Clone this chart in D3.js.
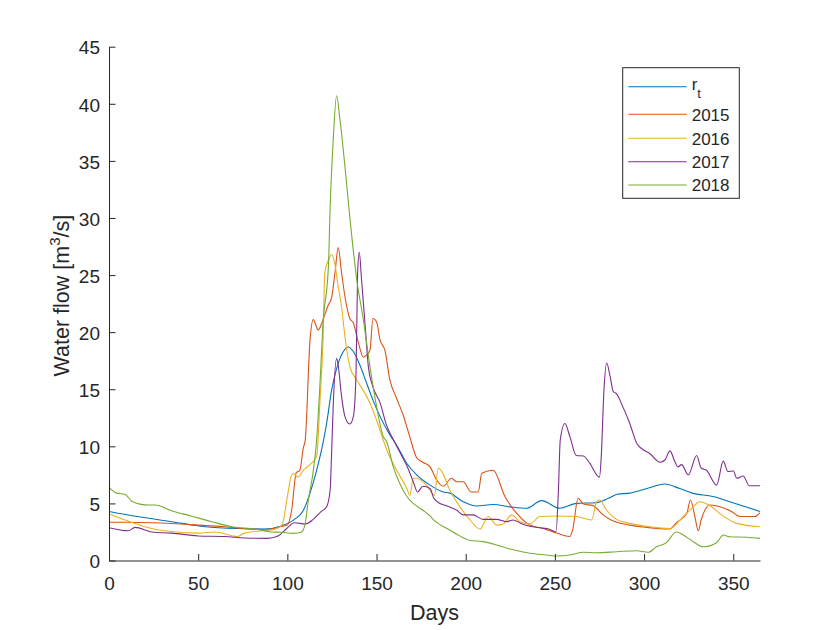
<!DOCTYPE html>
<html>
<head>
<meta charset="utf-8">
<script src="https://cdn.jsdelivr.net/npm/d3@7/dist/d3.min.js"></script>
<style>
  html, body { margin: 0; padding: 0; background: #fff; }
  svg { display: block; font-family: "Liberation Sans", Arial, sans-serif; }
</style>
</head>
<body>
<svg id="chart" width="840" height="630"></svg>
<script>
// ---- Data: [day, water flow m^3/s] ----
const seriesNames = ["r_t", "2015", "2016", "2017", "2018"];
const seriesColors = ["#0072BD", "#D95319", "#EDB120", "#7E2F8E", "#77AC30"];

const rt = [[0,4.3],[16,3.85],[35,3.4],[54,2.96],[72,2.8],[87,2.76],[97,3.05],[104,3.6],[109,4.4],[112.7,5.9],[116.4,7.9],[120,10.3],[122,12],[124.8,14.9],[127.6,16.8],[131.4,18.3],[134.2,18.7],[137,18.3],[140.7,17.1],[144.5,15.5],[148,14.05],[152,12.6],[157.5,11.0],[161.3,10.1],[167,8.5],[172.5,7.5],[180,6.6],[187.4,6.0],[191,5.9],[198.6,5.15],[206,4.77],[215.4,4.9],[224.8,4.7],[234,4.57],[242.6,5.24],[252.8,4.57],[262,5.0],[273.4,5.06],[280,5.45],[285,5.8],[292,5.9],[301.6,6.3],[311.7,6.7],[320,6.3],[327,5.9],[338.6,5.6],[348,5.15],[365,4.3]];

const y2015 = [[0,3.35],[10,3.35],[25,3.3],[50,3.1],[65,2.95],[78,2.76],[88,2.7],[97,3.0],[100,3.1],[102.4,4.4],[105,7.7],[107,7.9],[109,9.9],[110,10.5],[112.7,19.3],[114.5,21.1],[117.3,20.2],[120,21.1],[123,22.4],[124.8,23.0],[126.7,25.2],[128.5,27.4],[130.4,25.2],[132.3,23.1],[135,21.2],[137,20.8],[139.8,19.1],[142.6,17.8],[144.5,18.0],[146.3,18.4],[148,21.2],[150,20.9],[152,19.3],[154.7,18.4],[157.5,15.8],[161,14.3],[165,12.7],[168.7,10.8],[172.5,9.0],[176,8.6],[180,8.2],[183.7,7.05],[187.4,6.5],[192,7.2],[195,6.9],[198.6,6.9],[203,6.0],[207,6.0],[209,7.65],[215.4,7.9],[222,5.6],[228.5,4.15],[236,3.1],[243.5,2.8],[251,2.4],[258.4,2.1],[260,2.7],[263,5.45],[266,4.95],[271.5,4.8],[277,4.0],[281,3.6],[292,3.1],[301.4,2.9],[314.5,2.76],[318,3.3],[324,4.15],[326,5.3],[328.5,3.85],[330.4,2.6],[332,3.55],[337,4.86],[342.6,4.7],[349,4.3],[353.7,3.85],[362,3.85],[365,4.2]];

const y2016 = [[0,4.1],[9,3.55],[20,2.96],[31,2.6],[50,2.4],[59.5,2.5],[72,2.1],[76,2.4],[86,2.6],[93,2.75],[97,3.1],[100,5.6],[102,7.3],[103.3,7.6],[106,7.3],[109,7.9],[112.7,8.4],[116.4,9.1],[118.3,14],[120,19.3],[121,25.2],[123,26.3],[124.8,26.8],[126.7,25.9],[128.5,24.0],[130.4,22.2],[132.3,19.6],[135,17.0],[138.9,15.8],[142.6,14.9],[146.3,13.8],[150,12.3],[153.8,10.55],[155.7,9.7],[161.3,7.9],[167,6.3],[168.7,5.7],[170.6,7.2],[172.5,7.2],[178,6.6],[182.5,5.7],[184.6,8.1],[186.5,7.8],[191,6.2],[196.8,4.7],[202.4,3.55],[208,2.76],[212.6,3.85],[217.3,3.1],[221,3.2],[225.8,4.0],[230.4,3.4],[236,3.2],[241.6,3.85],[251,3.9],[262,3.85],[270.6,3.55],[273.4,5.15],[275,5.3],[279,4.4],[284.6,3.6],[292,3.25],[303,2.96],[314.5,2.8],[322,3.85],[327.6,4.7],[331,5.15],[337,4.8],[342.6,4.1],[352,3.25],[365,2.96]];

const y2017 = [[0,2.87],[10.8,2.6],[14.6,2.9],[24,2.5],[35,2.4],[50,2.15],[65,2.1],[76,1.97],[89,1.94],[95,2.17],[99.6,2.8],[104,3.3],[110,3.2],[114.5,3.6],[119,4.3],[122,4.7],[124,6.2],[124.8,9.4],[125.7,13.5],[127.6,17.7],[128.5,17.1],[130.4,14.35],[132.3,12.6],[135,11.95],[137,12.6],[138.5,16.4],[139.4,25.2],[140.3,27.0],[141.6,24.6],[143.5,20.8],[145.4,17.0],[148,15.2],[152,13.8],[155.7,11.8],[159.4,10.6],[164,9.2],[167,8.3],[170.6,6.9],[173,6.0],[176,6.5],[180,6.3],[182,5.5],[185.6,5.0],[189.3,4.8],[195,4.4],[198.6,4.0],[204,4.0],[209.8,3.6],[217.3,3.6],[223,3.4],[226.6,3.55],[231,3.25],[236,3.0],[241.6,2.87],[247,2.73],[250.6,2.5],[252,6.2],[253,10.55],[255.6,12.0],[258.4,10.85],[262,9.2],[266,9.15],[269.6,8.5],[275,7.3],[276,9.1],[277.5,14.9],[279,17.3],[281,16.1],[282.7,14.8],[284.6,14.6],[288,13.5],[292,12.0],[295.8,10.3],[299.5,9.7],[303,9.4],[309,8.6],[311.7,8.8],[314.5,9.6],[317.3,8.65],[319,8.2],[321,8.4],[324.8,7.5],[329.5,9.2],[332,8.1],[335,7.9],[340.7,6.6],[344.4,8.7],[347,7.8],[350,7.84],[352,7.2],[355.6,7.4],[359,6.55],[365,6.55]];

const y2018 = [[0,6.4],[4.3,5.9],[9,5.8],[12.7,5.2],[22,4.86],[25.8,4.86],[35,4.36],[46,3.9],[57.6,3.4],[68.8,2.96],[81.8,2.76],[91,2.5],[96.8,2.47],[103.3,2.38],[108,2.5],[110,3.25],[111.8,5.3],[114.5,7.8],[116.4,10.5],[118.3,15.5],[120,20.8],[123,25.7],[124,31.0],[125.7,36.8],[127.6,40.7],[129.5,38.6],[132.3,34.5],[135,30.1],[138.9,24.6],[142.6,21.1],[146.3,17.0],[150,13.5],[153.8,10.85],[155.7,10.4],[159.4,8.2],[163,6.76],[167,5.6],[170.6,5.0],[176,4.4],[180,3.9],[182,3.55],[189.3,2.82],[195,2.3],[202,1.78],[209.8,1.65],[217.3,1.36],[225,1.0],[236,0.63],[245.4,0.48],[251,0.39],[258.4,0.48],[266,0.72],[273.4,0.68],[284.6,0.77],[295.8,0.86],[302.3,0.72],[307,1.2],[312.6,1.56],[318,2.5],[322,2.23],[327.6,1.65],[333,1.2],[340.7,1.56],[344.4,2.23],[348,2.08],[357.5,2.03],[365,1.94]];

const allSeries = [rt, y2015, y2016, y2017, y2018];

const xTicks = [0, 50, 100, 150, 200, 250, 300, 350];
const yTicks = [0, 5, 10, 15, 20, 25, 30, 35, 40, 45];

// ---- Layout ----
const svg = d3.select("#chart");
const plotLeft = 109, plotRight = 760, plotTop = 46.7, plotBottom = 560.5;
const axisColor = "#262626";

const x = d3.scaleLinear().domain([0, 365]).range([plotLeft, plotRight]);
const y = d3.scaleLinear().domain([0, 45]).range([plotBottom, plotTop]);

svg.append("rect").attr("width", 840).attr("height", 630).attr("fill", "#fff");

// lines
const line = d3.line()
  .x(d => x(d[0]))
  .y(d => y(d[1]))
  .curve(d3.curveMonotoneX);

const plot = svg.append("g");
allSeries.forEach((s, i) => {
  plot.append("path")
    .datum(s)
    .attr("fill", "none")
    .attr("stroke", seriesColors[i])
    .attr("stroke-width", 1.1)
    .attr("stroke-linejoin", "round")
    .attr("d", line);
});

// axes (MATLAB style: ticks inward, no box)
const xAxis = d3.axisBottom(x).tickValues(xTicks).tickSizeInner(-6.5).tickSizeOuter(0).tickPadding(0);
const yAxis = d3.axisLeft(y).tickValues(yTicks).tickSizeInner(-6.5).tickSizeOuter(0).tickPadding(0);

const gx = svg.append("g").attr("transform", `translate(0,${plotBottom})`).call(xAxis);
const gy = svg.append("g").attr("transform", `translate(${plotLeft},0)`).call(yAxis);

[gx, gy].forEach(g => {
  g.select(".domain").attr("stroke", axisColor).attr("stroke-width", 1);
  g.selectAll(".tick line").attr("stroke", axisColor).attr("stroke-width", 1);
  g.selectAll(".tick text")
    .attr("fill", axisColor)
    .attr("font-size", 19)
    .attr("font-family", "'Liberation Sans', Arial, sans-serif");
});
gx.selectAll(".tick text").attr("y", 29.5).attr("dy", 0);
gy.selectAll(".tick text").attr("x", -9).attr("dy", "0.38em");

// axis labels
svg.append("text")
  .attr("x", (plotLeft + plotRight) / 2)
  .attr("y", 620)
  .attr("text-anchor", "middle")
  .attr("font-size", 21.5)
  .attr("fill", axisColor)
  .text("Days");

const yl = svg.append("text")
  .attr("transform", `translate(69,${(plotTop + plotBottom) / 2 - 8}) rotate(-90)`)
  .attr("text-anchor", "middle")
  .attr("font-size", 21.5)
  .attr("fill", axisColor);
yl.append("tspan").text("Water flow [m");
yl.append("tspan").attr("font-size", 15).attr("dy", -9).text("3");
yl.append("tspan").attr("dy", 9).text("/s]");

// legend
const legend = svg.append("g");
legend.append("rect")
  .attr("x", 622.7).attr("y", 67.7)
  .attr("width", 116.6).attr("height", 130.6)
  .attr("fill", "#fff")
  .attr("stroke", axisColor)
  .attr("stroke-width", 1);

const legendY = [86.7, 114.3, 138.3, 161.7, 185];
seriesNames.forEach((name, i) => {
  const ly = legendY[i];
  legend.append("line")
    .attr("x1", 628.3).attr("x2", 686.7)
    .attr("y1", ly).attr("y2", ly)
    .attr("stroke", seriesColors[i])
    .attr("stroke-width", 1.1);
  const t = legend.append("text")
    .attr("x", 691.7)
    .attr("font-size", 17)
    .attr("fill", axisColor);
  if (name === "r_t") {
    t.attr("y", ly + 3.5);
    t.append("tspan").text("r");
    t.append("tspan").attr("font-size", 13).attr("dy", 8).text("t");
  } else {
    t.attr("y", ly + 6.2).text(name);
  }
});
</script>
</body>
</html>
